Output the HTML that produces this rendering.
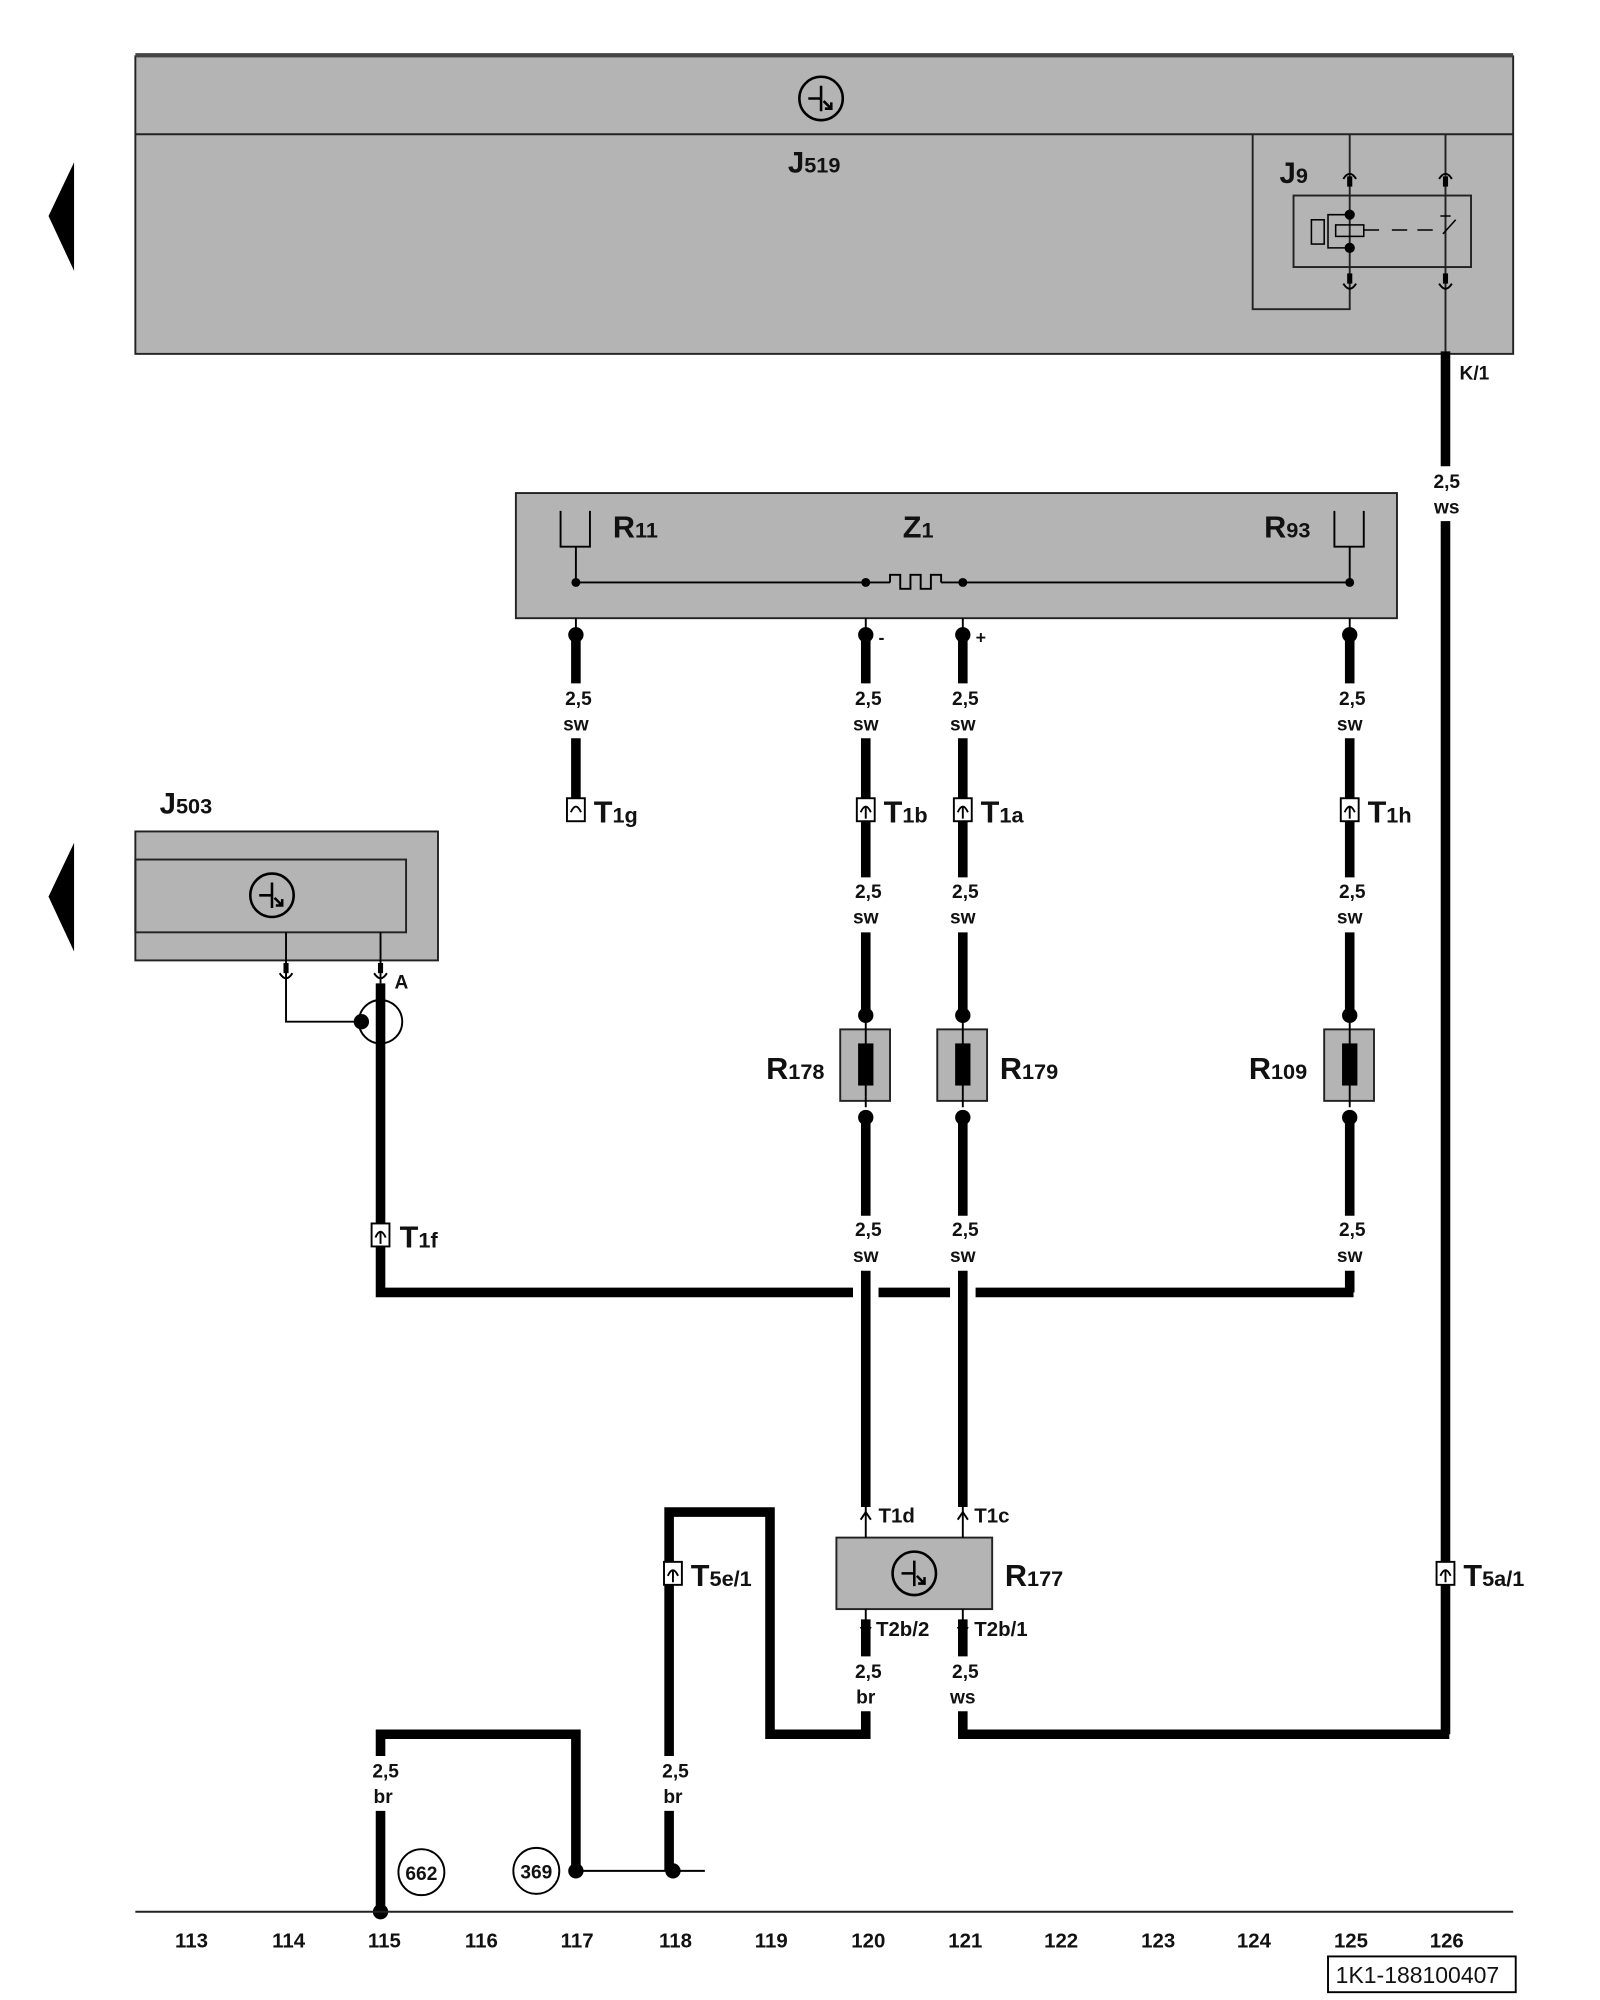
<!DOCTYPE html>
<html><head><meta charset="utf-8"><style>html,body{margin:0;padding:0;background:#fff}svg{display:block}text{font-family:"Liberation Sans",sans-serif;font-weight:bold;fill:#111}</style></head><body>
<svg width="1600" height="2000" viewBox="0 0 1253 1566" xmlns="http://www.w3.org/2000/svg">
<defs>
<g id="conn"><rect x="-7" y="-9" width="14" height="18" fill="#fff" stroke="#000" stroke-width="1.5"/><path d="M-4,2 Q0,-7 4,2 M0,-3 V7" fill="none" stroke="#000" stroke-width="1.5"/></g>
<g id="tr"><circle r="17" fill="none" stroke="#000" stroke-width="2"/><path d="M-10,0 H0 M0,-10 V10 M2,2 L8,8 M3,8 L8,8 L8,3" fill="none" stroke="#000" stroke-width="2"/></g>
</defs>
<polygon points="58,127 58,212 38,169" fill="#000"/>
<polygon points="58,660 58,745 38,702" fill="#000"/>
<rect x="106" y="44" width="1079" height="233" fill="#b4b4b4" stroke="#222" stroke-width="1.5"/>
<line x1="106" y1="43" x2="1185" y2="43" stroke="#444" stroke-width="3"/>
<line x1="106" y1="105" x2="1185" y2="105" stroke="#222" stroke-width="1.5"/>
<use href="#tr" x="643" y="77"/>
<text x="617" y="135" font-size="23">J<tspan font-size="17">519</tspan></text>
<path d="M1057,105 V242 H981 V105" fill="none" stroke="#222" stroke-width="1.5"/>
<rect x="1013" y="153" width="139" height="56" fill="none" stroke="#222" stroke-width="1.5"/>
<line x1="1132" y1="105" x2="1132" y2="277" stroke="#222" stroke-width="1.5"/>
<text x="1002" y="143" font-size="23">J<tspan font-size="17">9</tspan></text>
<path d="M1052,140 Q1057,132 1062,140 M1127,140 Q1132,132 1137,140 M1052,222 Q1057,230 1062,222 M1127,222 Q1132,230 1137,222" fill="none" stroke="#000" stroke-width="1.5"/>
<rect x="1055" y="138" width="4" height="8" fill="#000"/><rect x="1130" y="138" width="4" height="8" fill="#000"/>
<rect x="1055" y="214" width="4" height="8" fill="#000"/><rect x="1130" y="214" width="4" height="8" fill="#000"/>
<circle cx="1057" cy="168" r="4"/><circle cx="1057" cy="194" r="4"/>
<path d="M1057,168 H1040 V194 H1057" fill="none" stroke="#000" stroke-width="1.2"/>
<rect x="1027" y="172" width="10" height="19" fill="none" stroke="#000" stroke-width="1.2"/>
<rect x="1046" y="176" width="22" height="9" fill="none" stroke="#000" stroke-width="1.2"/>
<path d="M1068,180 H1080 M1090,180 H1102 M1110,180 H1122 M1130,183 L1140,172 M1128,169 H1136" fill="none" stroke="#000" stroke-width="1.2"/>
<line x1="1132" y1="275" x2="1132" y2="365" stroke="#000" stroke-width="7.5"/>
<line x1="1132" y1="408" x2="1132" y2="1358" stroke="#000" stroke-width="7.5"/>
<text x="1143" y="297" font-size="15">K/1</text>
<text x="1133" y="382" font-size="15" text-anchor="middle">2,5</text>
<text x="1133" y="402" font-size="15" text-anchor="middle">ws</text>
<rect x="404" y="386" width="690" height="98" fill="#b4b4b4" stroke="#222" stroke-width="1.5"/>
<line x1="451" y1="456" x2="697" y2="456" stroke="#000" stroke-width="1.5"/>
<line x1="737" y1="456" x2="1057" y2="456" stroke="#000" stroke-width="1.5"/>
<path d="M697,456 V450 H705 V461 H713 V450 H721 V461 H729 V450 H737 V456" fill="none" stroke="#000" stroke-width="1.5"/>
<path d="M439,400 V428 H462 V400 M451,428 V456 M1045,400 V428 H1068 V400 M1057,428 V456" fill="none" stroke="#000" stroke-width="1.5"/>
<text x="480" y="421" font-size="24">R<tspan font-size="17">11</tspan></text>
<text x="707" y="421" font-size="24">Z<tspan font-size="17">1</tspan></text>
<text x="990" y="421" font-size="24">R<tspan font-size="17">93</tspan></text>
<g fill="#000"><circle cx="451" cy="456" r="3.5"/><circle cx="678" cy="456" r="3.5"/><circle cx="754" cy="456" r="3.5"/><circle cx="1057" cy="456" r="3.5"/></g>
<line x1="451" y1="484" x2="451" y2="497" stroke="#000" stroke-width="1.5"/>
<line x1="678" y1="484" x2="678" y2="497" stroke="#000" stroke-width="1.5"/>
<line x1="754" y1="484" x2="754" y2="497" stroke="#000" stroke-width="1.5"/>
<line x1="1057" y1="484" x2="1057" y2="497" stroke="#000" stroke-width="1.5"/>
<text x="688" y="504" font-size="14">-</text><text x="764" y="504" font-size="14">+</text>
<g stroke="#000" stroke-width="7.5" fill="none">
<path d="M451,497 V535 M451,578 V625"/>
<path d="M678,497 V535 M678,578 V687 M678,730 V795 M678,875 V952 M678,995 V1180"/>
<path d="M754,497 V535 M754,578 V687 M754,730 V795 M754,875 V952 M754,995 V1180"/>
<path d="M1057,497 V535 M1057,578 V687 M1057,730 V795 M1057,875 V952 M1057,995 V1012"/>
<path d="M298,770 V1012 H668 M688,1012 H744 M764,1012 H1060"/>
<path d="M678,1268 V1297 M678,1340 V1358 H603 V1184 H524 V1375 M524,1418 V1465"/>
<path d="M754,1268 V1297 M754,1340 V1358 H1135"/>
<path d="M298,1497 V1418 M298,1375 V1358 H451 V1465"/>
</g>
<g fill="#000">
<circle cx="451" cy="497" r="6"/><circle cx="678" cy="497" r="6"/><circle cx="754" cy="497" r="6"/><circle cx="1057" cy="497" r="6"/>
<circle cx="678" cy="795" r="6"/><circle cx="754" cy="795" r="6"/><circle cx="1057" cy="795" r="6"/>
<circle cx="678" cy="875" r="6"/><circle cx="754" cy="875" r="6"/><circle cx="1057" cy="875" r="6"/>
</g>
<g font-size="15" text-anchor="middle">
<text x="453" y="552">2,5</text><text x="451" y="572">sw</text>
<text x="680" y="552">2,5</text><text x="678" y="572">sw</text>
<text x="756" y="552">2,5</text><text x="754" y="572">sw</text>
<text x="1059" y="552">2,5</text><text x="1057" y="572">sw</text>
<text x="680" y="703">2,5</text><text x="678" y="723">sw</text>
<text x="756" y="703">2,5</text><text x="754" y="723">sw</text>
<text x="1059" y="703">2,5</text><text x="1057" y="723">sw</text>
<text x="680" y="968">2,5</text><text x="678" y="988">sw</text>
<text x="756" y="968">2,5</text><text x="754" y="988">sw</text>
<text x="1059" y="968">2,5</text><text x="1057" y="988">sw</text>
<text x="680" y="1314">2,5</text><text x="678" y="1334">br</text>
<text x="756" y="1314">2,5</text><text x="754" y="1334">ws</text>
<text x="302" y="1392">2,5</text><text x="300" y="1412">br</text>
<text x="529" y="1392">2,5</text><text x="527" y="1412">br</text>
</g>
<rect x="444" y="625" width="14" height="18" fill="#fff" stroke="#000" stroke-width="1.5"/><path d="M447,636 Q451,627 455,636" fill="none" stroke="#000" stroke-width="1.5"/>
<use href="#conn" x="678" y="634"/><use href="#conn" x="754" y="634"/><use href="#conn" x="1057" y="634"/>
<use href="#conn" x="298" y="967"/><use href="#conn" x="527" y="1232"/><use href="#conn" x="1132" y="1232"/>
<text x="465" y="644" font-size="24">T<tspan font-size="17">1g</tspan></text>
<text x="692" y="644" font-size="24">T<tspan font-size="17">1b</tspan></text>
<text x="768" y="644" font-size="24">T<tspan font-size="17">1a</tspan></text>
<text x="1071" y="644" font-size="24">T<tspan font-size="17">1h</tspan></text>
<text x="313" y="977" font-size="24">T<tspan font-size="17">1f</tspan></text>
<text x="541" y="1242" font-size="24">T<tspan font-size="17">5e/1</tspan></text>
<text x="1146" y="1242" font-size="24">T<tspan font-size="17">5a/1</tspan></text>
<g stroke="#222" stroke-width="1.5"><rect x="658" y="806" width="39" height="56" fill="#b4b4b4"/><rect x="734" y="806" width="39" height="56" fill="#b4b4b4"/><rect x="1037" y="806" width="39" height="56" fill="#b4b4b4"/></g>
<g fill="#000"><rect x="672" y="817" width="12" height="33"/><rect x="748" y="817" width="12" height="33"/><rect x="1051" y="817" width="12" height="33"/></g>
<path d="M678,801 V867 M754,801 V867 M1057,801 V867" stroke="#000" stroke-width="1.5"/>
<text x="600" y="845" font-size="24">R<tspan font-size="17">178</tspan></text>
<text x="783" y="845" font-size="24">R<tspan font-size="17">179</tspan></text>
<text x="978" y="845" font-size="24">R<tspan font-size="17">109</tspan></text>
<rect x="106" y="651" width="237" height="101" fill="#b4b4b4" stroke="#222" stroke-width="1.5"/>
<rect x="106" y="673" width="212" height="57" fill="none" stroke="#222" stroke-width="1.5"/>
<use href="#tr" x="213" y="701"/>
<text x="125" y="637" font-size="23">J<tspan font-size="17">503</tspan></text>
<path d="M224,730 V800 H283 M298,730 V770" fill="none" stroke="#000" stroke-width="1.5"/>
<path d="M219,762 Q224,770 229,762 M293,762 Q298,770 303,762" fill="none" stroke="#000" stroke-width="1.5"/>
<rect x="222" y="754" width="4" height="8"/><rect x="296" y="754" width="4" height="8"/>
<text x="309" y="774" font-size="15">A</text>
<circle cx="298" cy="800" r="17" fill="none" stroke="#000" stroke-width="1.5"/>
<circle cx="283" cy="800" r="6"/>
<rect x="655" y="1204" width="122" height="56" fill="#b4b4b4" stroke="#222" stroke-width="1.5"/>
<use href="#tr" x="716" y="1232"/>
<path d="M678,1180 V1204 M754,1180 V1204 M678,1260 V1270 M754,1260 V1270" stroke="#000" stroke-width="1.5"/>
<path d="M674,1190 L678,1184 L682,1190 M750,1190 L754,1184 L758,1190 M674,1274 L678,1280 L682,1274 M750,1274 L754,1280 L758,1274" fill="none" stroke="#000" stroke-width="1.5"/>
<text x="688" y="1192" font-size="16">T1d</text><text x="763" y="1192" font-size="16">T1c</text>
<text x="686" y="1281" font-size="16">T2b/2</text><text x="763" y="1281" font-size="16">T2b/1</text>
<text x="787" y="1242" font-size="24">R<tspan font-size="17">177</tspan></text>
<line x1="451" y1="1465" x2="552" y2="1465" stroke="#000" stroke-width="1.5"/>
<circle cx="451" cy="1465" r="6"/><circle cx="527" cy="1465" r="6"/><circle cx="298" cy="1497" r="6"/>
<circle cx="330" cy="1466" r="18" fill="#fff" stroke="#000" stroke-width="1.5"/><text x="330" y="1472" font-size="15" text-anchor="middle">662</text>
<circle cx="420" cy="1465" r="18" fill="#fff" stroke="#000" stroke-width="1.5"/><text x="420" y="1471" font-size="15" text-anchor="middle">369</text>
<line x1="106" y1="1497" x2="1185" y2="1497" stroke="#222" stroke-width="1.5"/>
<g font-size="16" text-anchor="middle">
<text x="150" y="1525">113</text><text x="226" y="1525">114</text><text x="301" y="1525">115</text><text x="377" y="1525">116</text><text x="452" y="1525">117</text><text x="529" y="1525">118</text><text x="604" y="1525">119</text><text x="680" y="1525">120</text><text x="756" y="1525">121</text><text x="831" y="1525">122</text><text x="907" y="1525">123</text><text x="982" y="1525">124</text><text x="1058" y="1525">125</text><text x="1133" y="1525">126</text>
</g>
<rect x="1040" y="1532" width="147" height="28" fill="#fff" stroke="#000" stroke-width="1.5"/>
<text x="1046" y="1553" font-size="18" style="font-weight:normal">1K1-188100407</text>
</svg>
</body></html>
